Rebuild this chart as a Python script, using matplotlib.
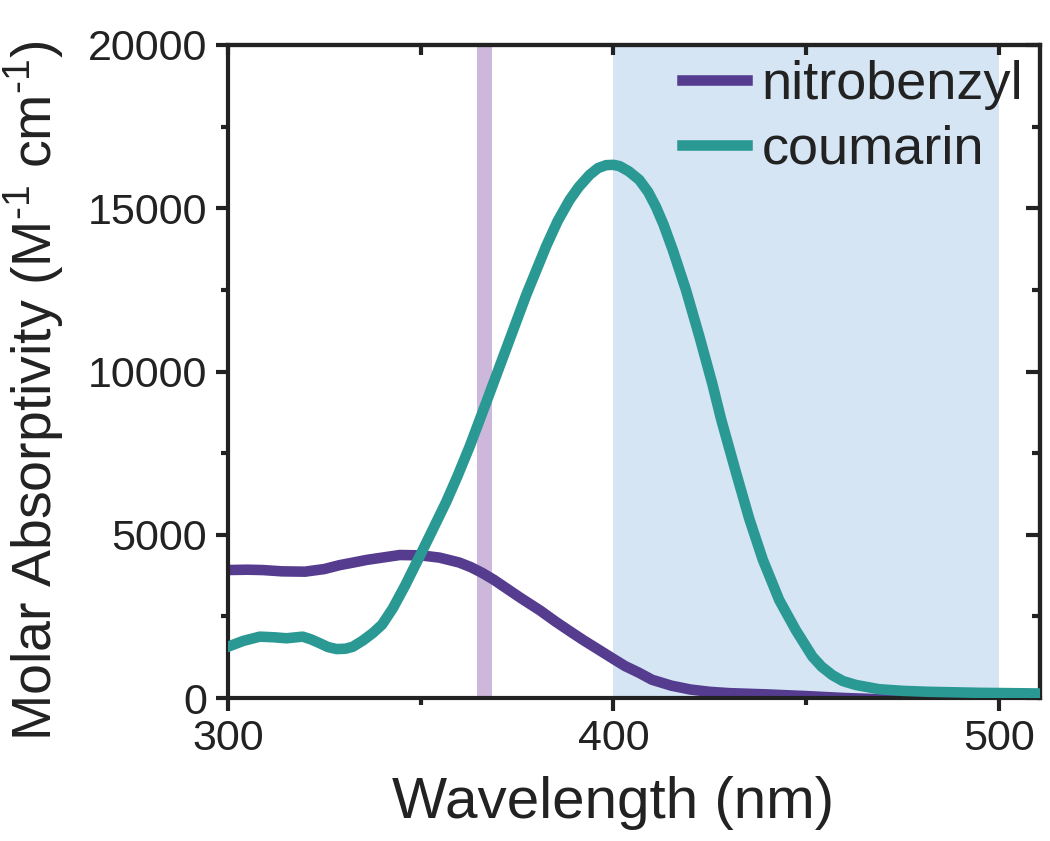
import numpy as np
import matplotlib
matplotlib.use("Agg")
import matplotlib.pyplot as plt
from matplotlib.ticker import MultipleLocator

plt.rcParams['font.family'] = ['Liberation Sans', 'DejaVu Sans']
plt.rcParams['mathtext.fontset'] = 'custom'
plt.rcParams['mathtext.rm'] = 'Liberation Sans'

# nitrobenzyl spectrum
nb_wl = [300, 305, 309, 314, 320, 325, 329, 333, 336, 340, 344.6, 350, 354.9,
         360, 363, 366, 369, 372, 376, 381, 385, 389.4, 392.5, 395.5, 399.7,
         403, 406.7, 410, 415, 420, 425, 430, 440, 450, 460, 470, 480, 490,
         500, 510]
nb_eps = [3920, 3930, 3920, 3880, 3870, 3950, 4070, 4160, 4230, 4300, 4380, 4370,
          4300, 4150, 4010, 3830, 3620, 3380, 3060, 2680, 2340, 1990, 1750, 1530,
          1220, 980, 770, 560, 380, 260, 190, 150, 110, 60, 0, -40, -20, 0, 20, 30]

# coumarin spectrum
cm_wl = [300, 304, 308.3, 312, 315.2, 319.4, 321.5, 323.8, 326, 328.2, 330.5,
         332.4, 335, 337.6, 340, 342.8, 346, 349.7, 353.1, 356.6, 359.5, 362.7,
         367, 372.2, 377.4, 382.6, 385.5, 388.6, 391, 393.8, 396, 398.1, 400,
         401.6, 404, 406.7, 409, 411, 413, 415.4, 418.8, 422.3, 425.7, 427.9,
         431.8, 435.2, 438.7, 443, 447.3, 451.6, 454, 456.8, 459.5, 462.9, 468.9,
         475, 481.9, 494.8, 510]
cm_eps = [1570, 1750, 1880, 1860, 1830, 1880, 1800, 1680, 1560, 1500, 1510,
          1570, 1760, 1990, 2250, 2750, 3450, 4330, 5150, 6000, 6780, 7700,
          9050, 10700, 12350, 13850, 14600, 15250, 15650, 16020, 16230, 16320, 16330,
          16290, 16130, 15870, 15500, 15050, 14500, 13720, 12500, 11070, 9600, 8550,
          6900, 5500, 4250, 3000, 2080, 1270, 960, 700, 520, 400, 270,
          220, 190, 160, 140]

uv_band = (364.5, 368.5)
vis_band = (400, 500)

fig = plt.figure(figsize=(10.5, 8.41), dpi=100)
ax = fig.add_axes([0.217, 0.170, 0.773, 0.7765])

ax.axvspan(*vis_band, color='#d5e5f4', lw=0, zorder=0)
ax.axvspan(*uv_band, color='#cdb8dc', lw=0, zorder=0)

ax.plot(nb_wl, nb_eps, color='#553c8f', lw=7.6, label='nitrobenzyl',
        solid_joinstyle='round', zorder=2)
ax.plot(cm_wl, cm_eps, color='#2a9893', lw=7.6, label='coumarin',
        solid_joinstyle='round', zorder=3)

ax.set_xlim(300, 510.5)
ax.set_ylim(0, 20000)
ax.xaxis.set_major_locator(MultipleLocator(100))
ax.xaxis.set_minor_locator(MultipleLocator(50))
ax.yaxis.set_major_locator(MultipleLocator(5000))
ax.yaxis.set_minor_locator(MultipleLocator(2500))

for s in ax.spines.values():
    s.set_linewidth(3)
    s.set_color('#222222')
ax.tick_params(which='major', direction='out', length=9, width=3,
               labelsize=31, colors='#222222', pad=6)
ax.tick_params(which='minor', direction='out', length=5, width=3,
               colors='#222222')

# inward ticks on top and right
top = ax.secondary_xaxis('top')
top.xaxis.set_major_locator(MultipleLocator(100))
top.xaxis.set_minor_locator(MultipleLocator(50))
top.tick_params(which='both', direction='in', length=7, width=3,
                labeltop=False, colors='#222222')
right = ax.secondary_yaxis('right')
right.yaxis.set_major_locator(MultipleLocator(5000))
right.yaxis.set_minor_locator(MultipleLocator(2500))
right.tick_params(which='major', direction='in', length=10, width=3,
                  labelright=False, colors='#222222')
right.tick_params(which='minor', direction='in', length=6, width=3,
                  colors='#222222')
for sa in (top, right):
    for s in sa.spines.values():
        s.set_linewidth(3)
        s.set_color('#222222')

ax.set_xlabel('Wavelength (nm)', fontsize=42, color='#222222')
ax.xaxis.set_label_coords(0.475, -0.12)
ax.set_ylabel(r'Molar Absorptivity (M$^{\text{-1}}$ cm$^{\text{-1}}$)',
              fontsize=40, color='#222222')
ax.yaxis.set_label_coords(-0.2, 0.47)

leg = ax.legend(loc='upper right', fontsize=39, frameon=False,
                handlelength=1.2, handletextpad=0.28, labelspacing=0.27,
                borderaxespad=0.0, bbox_to_anchor=(1.007, 1.01))
for t in leg.get_texts():
    t.set_color('#222222')

fig.savefig('out.png', dpi=100)
